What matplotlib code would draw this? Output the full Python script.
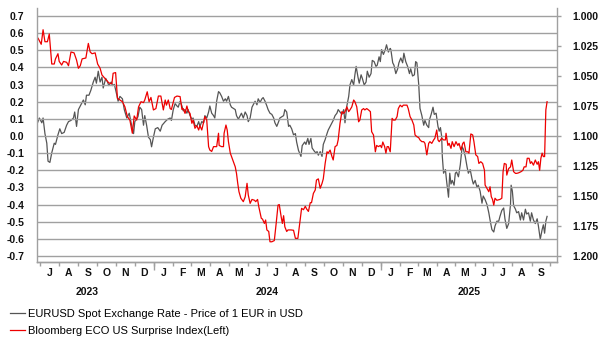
import numpy as np
import pandas as pd
import matplotlib
matplotlib.use("Agg")
import matplotlib.pyplot as plt
import matplotlib.dates as mdates

plt.rcParams["font.family"] = ["Liberation Sans", "DejaVu Sans"]

base = pd.Timestamp("2023-07-01")

# Bloomberg ECO US Surprise Index (left axis): days since 2023-07-01, value
surp_days = [-3, 2, 5, 8, 12, 15, 19, 23, 25, 29, 31, 35, 38, 43, 46, 50, 55, 59, 62, 65,
             68, 74, 78, 81, 84, 89, 93, 97, 100, 105, 111, 116, 118, 122, 125, 129, 133, 137, 141, 145,
             149, 152, 156, 159, 163, 167, 169, 173, 176, 179, 183, 187, 191, 195, 199,
             202, 204, 207, 210, 212, 217, 221, 226, 229, 231, 234, 237, 239, 242, 245, 247, 250, 253,
             256, 258, 261, 264, 266, 269, 272, 274, 277, 280, 282, 285, 288, 289, 293, 296, 297, 300,
             302, 304, 307, 309, 312, 315, 317, 319, 321, 324, 328, 331, 334, 336, 339, 342, 346, 348,
             351, 353, 357, 359, 362, 364, 366, 369, 371, 374, 378, 381, 384, 386, 389, 391, 393, 395,
             398, 400, 405, 409, 412, 416, 419,
             422, 425, 428, 430, 433, 436, 438, 441, 444, 446, 449, 452, 455, 457, 460, 463, 465, 468,
             471, 473, 476, 479, 481, 484, 487, 490, 492, 495, 498, 500, 503, 506, 508, 511, 514, 516,
             519, 522, 524, 527, 530, 533, 535, 538, 541, 543, 546, 549, 551, 553, 556, 558, 560, 562,
             565, 568, 570, 573, 576, 578, 581, 584, 586, 589, 592, 594, 597, 600, 603, 605, 608, 611,
             613, 616, 619, 621, 624,
             627, 629, 632, 635, 637, 640, 642, 644, 648, 651, 654, 655, 658, 660, 663, 665, 668, 671,
             674, 676, 679, 682, 684, 687, 690, 692, 695, 698, 700, 703, 706, 708, 711, 714, 717, 718,
             721, 724, 726, 728, 730, 732, 734, 737, 740, 742, 745, 747, 749, 752, 753, 756, 759, 761,
             764, 767, 769, 772, 776, 779, 781, 784, 786, 789, 791, 793, 796, 799, 802, 804, 806, 808,
             810, 812, 814, 816, 818]
surp_vals = [0.57, 0.535, 0.62, 0.55, 0.55, 0.595, 0.42, 0.42, 0.45, 0.48, 0.435, 0.414, 0.435, 0.43, 0.41, 0.49, 0.485, 0.443, 0.395, 0.41,
             0.45, 0.455, 0.54, 0.49, 0.48, 0.485, 0.42, 0.395, 0.356, 0.335, 0.31, 0.305, 0.366, 0.37, 0.22, 0.21, 0.2, 0.17, 0.113, 0.093,
             0.016, 0.117, 0.093, 0.17, 0.2, 0.195, 0.21, 0.258, 0.2, 0.225, 0.152, 0.16, 0.233, 0.233, 0.152,
             0.21, 0.18, 0.21, 0.16, 0.155, 0.225, 0.233, 0.23, 0.155, 0.16, 0.132, 0.175, 0.145, 0.132, 0.074, 0.093, 0.045, 0.06,
             0.035, 0.06, 0.035, 0.083, 0.113, 0.093, -0.062, -0.082, -0.09, -0.062, -0.062, -0.062, 0.016, -0.055, -0.062, -0.062, 0.016, 0.064,
             0.035, -0.033, -0.1, -0.12, -0.15, -0.18, -0.218, -0.276, -0.325, -0.363, -0.383, -0.355, -0.276, -0.344, -0.393, -0.37, -0.375, -0.383,
             -0.37, -0.413, -0.48, -0.485, -0.51, -0.49, -0.548, -0.557, -0.617, -0.617, -0.61, -0.51, -0.403, -0.4, -0.47, -0.51, -0.465, -0.53,
             -0.557, -0.548, -0.548, -0.55, -0.597, -0.597, -0.51,
             -0.422, -0.43, -0.41, -0.425, -0.44, -0.389, -0.389, -0.335, -0.315, -0.257, -0.25, -0.305, -0.276, -0.25, -0.16, -0.092, -0.1, -0.082,
             -0.12, -0.14, -0.062, -0.055, -0.023, 0.074, 0.142, 0.132, 0.142, 0.17, 0.142, 0.152, 0.17, 0.21, 0.2, 0.17, 0.083, 0.093,
             0.152, 0.16, 0.152, 0.16, 0.152, 0.142, 0.025, 0.006, -0.092, -0.055, -0.062, -0.055, -0.068, -0.035, -0.062, -0.1, -0.062, -0.062,
             -0.092, 0.103, 0.093, 0.093, 0.113, 0.16, 0.18, 0.17, 0.18, 0.18, 0.18, 0.16, 0.113, 0.093, 0.064, 0.006, -0.004, -0.01,
             -0.023, -0.033, -0.033, -0.043, -0.11,
             -0.043, -0.033, -0.043, -0.023, -0.013, 0.035, -0.023, -0.033, -0.013, -0.023, -0.023, 0.016, -0.055, -0.043, -0.072, -0.033, -0.062, -0.033,
             -0.055, -0.043, -0.082, -0.043, -0.035, -0.092, -0.092, -0.1, 0.012, 0.006, -0.033, -0.11, -0.12, -0.16, -0.15, -0.16, -0.2, -0.286,
             -0.305, -0.325, -0.296, -0.354, -0.37, -0.403, -0.363, -0.375, -0.372, -0.37, -0.363, -0.208, -0.16, -0.165, -0.228, -0.19, -0.18, -0.14,
             -0.208, -0.218, -0.218, -0.215, -0.208, -0.2, -0.18, -0.18, -0.13, -0.13, -0.16, -0.15, -0.17, -0.14, -0.165, -0.15, -0.2, -0.13,
             -0.1, -0.12, -0.12, 0.152, 0.2]

# EURUSD spot (right axis, inverted): days since 2023-07-01, value
fx_days = [-4, -1, 3, 5, 8, 11, 13, 16, 19, 23, 25, 29, 32, 35, 39, 43, 46, 50, 54, 56,
           59, 62, 66, 70, 73, 75, 79, 82, 86, 89, 91, 94, 97, 100, 102, 106, 109, 111, 115, 117,
           120, 124, 126, 129, 133, 136, 140, 144, 147, 151, 153, 158, 161, 164, 167, 169, 172, 175, 178, 180,
           183, 186, 190, 194, 197,
           202, 206, 210, 212, 215, 218, 221, 223, 226, 229, 231, 234, 237, 239, 242, 245, 247, 250, 253, 256,
           258, 261, 264, 266, 269, 272, 274, 277, 280, 282, 285, 288, 290, 293, 296, 299, 301, 304, 307, 309,
           315, 317, 320, 323, 325, 328, 331, 334, 336, 339, 342, 344, 347, 350, 352, 355, 358, 360, 363, 366,
           368, 371, 374, 377, 379, 382, 385, 387, 390, 393, 395, 398, 401, 403, 406, 409, 412, 414, 417,
           421, 423, 427, 429, 432, 434, 437, 439, 443, 445, 447, 449, 452, 455, 457, 460, 463, 465, 468, 471,
           473, 476, 479, 481, 484, 487, 490, 492, 495, 498, 500, 503, 506, 508, 510, 513, 515, 518, 520, 523,
           526, 528, 531, 534, 536, 539, 542, 544, 547, 549, 551, 554, 557, 559, 562, 565, 566, 569, 571, 574,
           577, 579, 582, 585, 587, 590, 593, 596, 598, 601, 604, 606, 608, 611, 613, 616, 619, 621, 624, 627,
           628, 631, 634, 636, 639, 642, 644, 646, 648, 649, 651, 654, 656, 659, 661, 663, 665, 668, 670, 672,
           675, 678, 681, 683, 686, 689, 691, 694, 697, 699, 702, 705, 707, 710, 713, 715, 718, 721, 724, 726,
           729, 732, 734, 737, 740, 742, 745, 748, 750, 753, 756, 759, 760, 762, 764, 767, 769, 772, 775, 777,
           780, 783, 785, 788, 791, 793, 796, 799, 802, 804, 807, 810, 812, 814, 816, 818]
fx_vals = [1.089, 1.085, 1.089, 1.085, 1.098, 1.106, 1.121, 1.122, 1.114, 1.106, 1.107, 1.099, 1.094, 1.098, 1.097, 1.091, 1.088, 1.087, 1.085, 1.080,
           1.092, 1.078, 1.074, 1.070, 1.074, 1.066, 1.066, 1.062, 1.055, 1.051, 1.056, 1.046, 1.055, 1.051, 1.060, 1.052, 1.055, 1.058, 1.055, 1.058,
           1.057, 1.066, 1.071, 1.067, 1.069, 1.078, 1.085, 1.081, 1.089, 1.098, 1.088, 1.084, 1.076, 1.078, 1.091, 1.083, 1.091, 1.101, 1.103, 1.109,
           1.101, 1.094, 1.093, 1.096, 1.091,
           1.088, 1.086, 1.085, 1.087, 1.078, 1.073, 1.075, 1.076, 1.071, 1.075, 1.079, 1.078, 1.081, 1.078, 1.083, 1.086, 1.085, 1.091, 1.092, 1.088,
           1.092, 1.088, 1.089, 1.083, 1.085, 1.080, 1.075, 1.081, 1.083, 1.085, 1.071, 1.063, 1.064, 1.067, 1.071, 1.069, 1.071, 1.067, 1.074, 1.076,
           1.078, 1.083, 1.086, 1.083, 1.081, 1.085, 1.080, 1.083, 1.088, 1.085, 1.076, 1.074, 1.071, 1.074, 1.069, 1.072, 1.069, 1.068, 1.071, 1.075,
           1.078, 1.081, 1.082, 1.085, 1.089, 1.092, 1.088, 1.085, 1.084, 1.083, 1.078, 1.080, 1.092, 1.091, 1.094, 1.099, 1.098, 1.105, 1.112,
           1.117, 1.108, 1.105, 1.107, 1.102, 1.107, 1.102, 1.110, 1.113, 1.114, 1.113, 1.116, 1.113, 1.117, 1.107, 1.103, 1.098, 1.095, 1.092, 1.089,
           1.087, 1.083, 1.081, 1.078, 1.080, 1.082, 1.078, 1.089, 1.075, 1.067, 1.0575, 1.053, 1.0575, 1.049, 1.042, 1.051, 1.056, 1.049, 1.052, 1.0575,
           1.055, 1.046, 1.051, 1.048, 1.037, 1.038, 1.042, 1.041, 1.034, 1.038, 1.028, 1.032, 1.028, 1.024, 1.030, 1.027, 1.028, 1.039, 1.041, 1.048,
           1.044, 1.039, 1.035, 1.039, 1.031, 1.038, 1.042, 1.048, 1.044, 1.050, 1.049, 1.038, 1.039, 1.0575, 1.077, 1.083, 1.091, 1.087, 1.091, 1.093,
           1.087, 1.082, 1.076, 1.082, 1.081, 1.092, 1.096, 1.093, 1.1006, 1.117, 1.131, 1.128, 1.138, 1.151, 1.131, 1.140, 1.137, 1.141, 1.131, 1.130,
           1.134, 1.124, 1.109, 1.111, 1.117, 1.126, 1.131, 1.128, 1.136, 1.140, 1.137, 1.143, 1.141, 1.146, 1.156, 1.150, 1.153, 1.157, 1.164, 1.170,
           1.178, 1.180, 1.175, 1.171, 1.171, 1.167, 1.162, 1.160, 1.169, 1.177, 1.173, 1.157, 1.141, 1.146, 1.158, 1.161, 1.164, 1.163, 1.170, 1.164,
           1.170, 1.161, 1.165, 1.164, 1.171, 1.164, 1.170, 1.173, 1.169, 1.175, 1.186, 1.178, 1.174, 1.181, 1.171, 1.167]

left_ticks = [0.7, 0.6, 0.5, 0.4, 0.3, 0.2, 0.1, 0.0, -0.1, -0.2, -0.3, -0.4, -0.5, -0.6, -0.7]
right_ticks = [1.000, 1.025, 1.050, 1.075, 1.100, 1.125, 1.150, 1.175, 1.200]
years = ["2023", "2024", "2025"]
year_label_dates = ["2023-09-15", "2024-07-01", "2025-05-23"]

surp_dates = base + pd.to_timedelta(surp_days, unit="D")
fx_dates = base + pd.to_timedelta(fx_days, unit="D")

fig = plt.figure(figsize=(6.03, 3.52), dpi=100)
ax = fig.add_axes([37 / 603, 1 - 262 / 352, 520 / 603, 254 / 352])
ax2 = ax.twinx()

grid_col = "#a0a0a0"
ax.set_ylim(-0.735, 0.7467)
ax.set_yticks(left_ticks)
ax.set_yticklabels(["%.1f" % v for v in left_ticks])
ax.grid(True, axis="y", color=grid_col, linewidth=1.0)
ax.set_axisbelow(True)

ax2.set_ylim(1.205, 0.99333)
ax2.set_yticks(right_ticks)
ax2.set_yticklabels(["%.3f" % v for v in right_ticks])

l1, = ax2.plot(fx_dates, fx_vals, color="#555555", linewidth=0.9,
               label="EURUSD Spot Exchange Rate - Price of 1 EUR in USD")
l2, = ax.plot(surp_dates, surp_vals, color="#ee0000", linewidth=0.9,
              label="Bloomberg ECO US Surprise Index(Left)")
ax.set_zorder(ax2.get_zorder() + 1)
ax.patch.set_visible(False)

x0 = base - pd.Timedelta(days=4.8)
x1 = base + pd.Timedelta(days=834)
ax.set_xlim(x0, x1)

for a in (ax, ax2):
    a.spines["top"].set_visible(False)
    for s in ("left", "right", "bottom"):
        a.spines[s].set_color(grid_col)
        a.spines[s].set_linewidth(1.0)
ax.spines["right"].set_visible(False)
ax2.spines["left"].set_visible(False)

ax.tick_params(axis="y", length=0, pad=9)
ax2.tick_params(axis="y", length=3, width=1, color=grid_col, pad=8)
for lab in ax.get_yticklabels() + ax2.get_yticklabels():
    lab.set_fontsize(7.5)
    lab.set_fontweight("bold")
    lab.set_color("#111111")

# months: ticks at month starts, first letter mid-month
ax.xaxis.set_minor_locator(mdates.MonthLocator())
ax.xaxis.set_major_locator(mdates.MonthLocator(bymonthday=16))
ax.xaxis.set_major_formatter(mdates.DateFormatter("%b"))
ax.tick_params(axis="x", which="minor", length=3, width=1, color=grid_col)
ax.tick_params(axis="x", which="major", length=0, pad=4)
fig.canvas.draw()
ax.set_xticklabels([t.get_text()[:1] for t in ax.get_xticklabels()],
                   fontsize=7.5, fontweight="bold", color="#111111")

# year boundary ticks and year labels
sec = ax.secondary_xaxis("bottom")
sec.set_xticks(pd.to_datetime(["2024-01-01", "2025-01-01"]))
sec.set_xticklabels([])
sec.tick_params(length=6, width=1, color=grid_col)
sec.spines["bottom"].set_visible(False)
for y, d in zip(years, year_label_dates):
    ax.text(pd.Timestamp(d), -0.735 - 30 / 171.4, y, ha="center", va="center",
            fontsize=7.5, fontweight="bold", color="#111111")

fig.legend(handles=[l1, l2], loc="upper left", bbox_to_anchor=(6.5 / 603, 1 - 306 / 352),
           frameon=False, fontsize=8, handlelength=1.35, handletextpad=0.3,
           labelspacing=0.6, borderaxespad=0.0, borderpad=0.3)

fig.savefig("out.png", dpi=100)
